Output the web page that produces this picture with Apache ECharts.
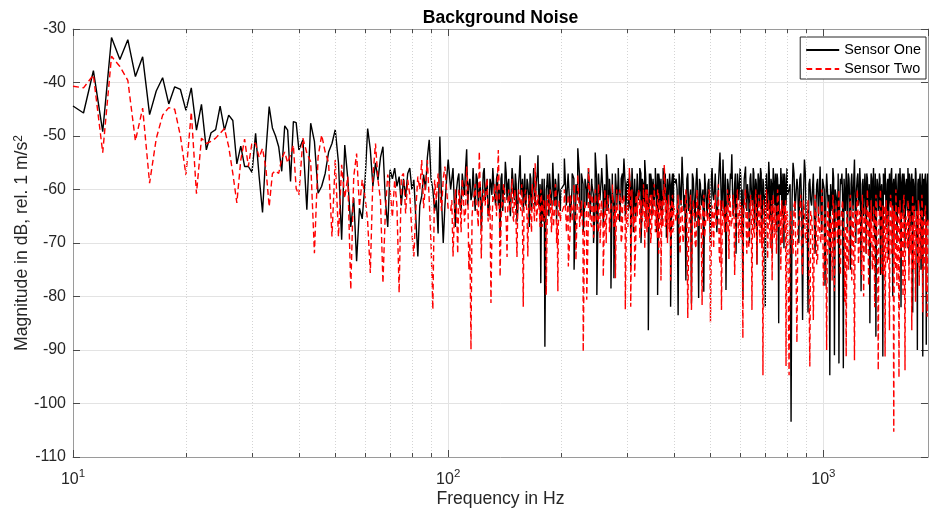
<!DOCTYPE html>
<html>
<head>
<meta charset="utf-8">
<script src="https://cdn.jsdelivr.net/npm/echarts@6/dist/echarts.min.js"></script>
<style>html,body{margin:0;padding:0;background:#fff}#c{width:929px;height:515px}</style>
</head>
<body>
<div id="c"></div>
<script>
// Frequency bins (Hz): each band is a regular grid [start, step, count]
const bands = [
  [10, 2 / 3, 46],
  [41, 1, 60],
  [101.5, 1.5, 66],
  [102.25, 1.5, 66],
  [201.5, 2.5, 80],
  [203.75, 2.5, 80],
  [405, 5, 80],
  [407.5, 5, 80],
  [810, 10, 110],
  [815, 10, 109]
];

// Sensor One magnitudes (dB) per band
const oneBand1 = [-44.4,-45.7,-37.8,-49.2,-31.6,-35.7,-32.0,-38.9,-35.2,-46.0,
  -41.6,-39.1,-44.0,-40.8,-41.3,-45.2,-41.0,-48.9,-44.1,-52.6,
  -49.4,-48.8,-44.4,-48.9,-46.1,-47.1,-55.2,-51.9,-55.7,-55.7,
  -56.8,-49.5,-57.5,-64.3,-53.0,-44.5,-48.5,-50.0,-52.0,-56.6,
  -48.1,-48.9,-58.5,-47.3,-47.5,-52.6];
const oneBand2 = [-50.7,-63.8,-47.6,-51.0,-60.7,-59.4,-57.0,-53.0,-51.4,-48.8,
  -55.0,-69.4,-51.7,-58.0,-67.0,-61.6,-73.4,-63.5,-65.5,-58.8,
  -48.6,-52.5,-59.4,-55.0,-58.2,-54.0,-52.0,-62.0,-67.0,-56.3,
  -58.0,-56.0,-59.4,-57.6,-63.0,-58.0,-61.4,-57.0,-56.0,-60.0,
  -58.2,-65.5,-72.5,-63.0,-61.2,-57.2,-60.0,-54.0,-50.7,-58.0,
  -60.0,-64.0,-62.0,-68.2,-50.1,-62.0,-70.0,-63.0,-58.2,-54.4];
const oneBand3 = [-60,-56,-67,-58,-63,-57,-61,-52.5,-59,-62,
  -56,-64,-58,-60,-67.6,-57,-62,-58,-64,-59,
  -56,-61,-58,-63,-69,-57,-60,-54.8,-62,-58,
  -65,-56,-61,-57,-66,-59,-53.6,-60,-64,-57,
  -62,-59,-67,-58,-61,-56,-63,-58,-53.6,-62,
  -77.5,-58,-64,-89.4,-60,-57,-65,-59,-62,-55,
  -63,-58,-66,-60,-57,-64];
const oneBand3b = [-58,-62,-60,-57,-64,-59,-56,-63,-58,-61,
  -60,-57,-63,-59,-62,-56,-60,-65,-58,-61,
  -59,-63,-57,-60,-58,-64,-61,-57,-59,-63,
  -60,-58,-62,-59,-64,-57,-61,-58,-60,-63,
  -58,-61,-57,-64,-59,-62,-60,-57,-63,-59,
  -61,-66,-58,-72,-59,-61,-57,-63,-60,-58,
  -62,-59,-61,-57,-63,-60];
const oneBand4 = [-60,-54.2,-63,-58,-66,-57,-75,-59,-52.3,-62,
  -57,-68,-58,-63,-56,-65,-59,-70,-53.1,-79.7,
  -57,-62,-56,-67,-60,-53.4,-64,-58,-78.5,-60,
  -76.6,-57,-63,-56,-66,-58,-62,-54.2,-65,-59,
  -64,-57,-74.4,-56,-68,-58,-64,-57,-62,-56,
  -70,-58,-63,-54.5,-66,-59,-86.3,-60,-57,-65,
  -58,-62,-56,-68,-79.7,-57,-63,-58,-66,-56,
  -61,-57,-69,-58,-63,-57,-81.9,-59,-64,-57];
const oneBand4b = [-59,-62,-57,-64,-60,-58,-63,-61,-57,-65,
  -59,-62,-60,-57,-63,-58,-61,-64,-58,-60,
  -62,-57,-61,-59,-64,-58,-60,-62,-57,-63,
  -59,-61,-58,-64,-60,-57,-62,-59,-61,-58,
  -63,-60,-57,-62,-59,-65,-58,-61,-60,-57,
  -63,-59,-62,-58,-60,-64,-57,-61,-59,-63,
  -58,-60,-62,-57,-61,-59,-64,-58,-60,-62,
  -57,-63,-59,-61,-58,-60,-64,-57,-62,-59];
const oneBand5 = [-58,-83.5,-60,-53.9,-64,-77,-57,-62,-81.3,-58,
  -66,-56,-80.3,-59,-63,-79.1,-57,-65,-58,-70,
  -56,-62,-57,-68,-59,-53.1,-64,-54.4,-66,-78.8,
  -58,-63,-57,-53.4,-65,-59,-72,-57,-62,-56,
  -68,-80.6,-58,-55.7,-64,-59,-70,-57,-62,-56,
  -67,-58,-74,-57,-63,-56,-69,-58,-62,-82,
  -57,-64,-54.8,-66,-58,-72,-56,-61,-57,-68,
  -58,-85,-59,-56,-65,-57,-71,-58,-63,-56];
const oneBand5b = [-60,-57,-63,-59,-61,-58,-64,-60,-57,-62,
  -59,-61,-58,-63,-60,-57,-62,-59,-64,-58,
  -61,-60,-57,-63,-59,-58,-62,-60,-57,-64,
  -59,-61,-58,-60,-63,-57,-61,-59,-62,-58,
  -60,-64,-57,-61,-59,-62,-58,-60,-63,-57,
  -61,-59,-62,-58,-60,-57,-63,-59,-61,-58,
  -62,-60,-57,-64,-59,-61,-58,-63,-60,-57,
  -62,-59,-61,-58,-64,-60,-57,-62,-59,-61];
const oneBand6 = [-60,-103.4,-55,-64,-58,-70,-57,-84.4,-54.4,-66,
  -83,-58,-63,-57,-72,-59,-65,-55.7,-68,-58,
  -78,-57,-63,-94.7,-59,-56,-91,-60,-66,-92.5,
  -58,-57,-93.4,-61,-56,-68,-58,-75,-57,-64,
  -54.4,-70,-58,-63,-56,-79,-59,-65,-57,-72,
  -58,-62,-85,-57,-66,-56,-69,-87.5,-58,-64,
  -57,-76,-59,-91.2,-58,-56,-67,-59,-73,-57,
  -63,-56,-80,-58,-66,-57,-70,-59,-64,-56,
  -82,-58,-65,-57,-71,-59,-63,-56,-74,-58,
  -67,-57,-83,-59,-64,-56,-69,-90,-58,-62,
  -57,-75,-59,-91.2,-58,-65,-57,-89,-60,-66];
const oneBand6b = [-59,-62,-57,-64,-60,-58,-63,-61,-57,-65,
  -59,-62,-60,-57,-63,-58,-61,-64,-58,-60,
  -62,-57,-61,-59,-64,-58,-60,-62,-57,-63,
  -59,-61,-58,-64,-60,-57,-62,-59,-61,-58,
  -63,-60,-57,-62,-59,-65,-58,-61,-60,-57,
  -63,-59,-62,-58,-60,-64,-57,-61,-59,-63,
  -58,-60,-62,-57,-61,-59,-64,-58,-60,-62,
  -57,-63,-59,-61,-58,-60,-64,-57,-62,-59,
  -60,-57,-63,-59,-61,-58,-64,-60,-57,-62,
  -59,-61,-58,-63,-60,-57,-62,-59,-64,-58,
  -61,-60,-57,-63,-59,-58,-62,-60,-57];

// Sensor Two magnitudes (dB) per band
const twoBand1 = [-40.7,-41.0,-38.6,-53.1,-35.1,-37.0,-39.6,-50.9,-44.8,-58.8,
  -50.5,-46.1,-44.7,-45.0,-50.0,-57.3,-45.5,-60.8,-50.4,-51.4,
  -51.0,-50.4,-49.5,-48.6,-52.0,-57.0,-62.5,-54.5,-50.6,-55.7,
  -51.2,-51.4,-54.0,-52.3,-56.0,-63.2,-57.0,-56.5,-57.0,-54.2,
  -53.0,-55.0,-53.5,-51.7,-59.8,-61.0];
const twoBand2 = [-50.4,-53.2,-54.8,-71.9,-53.9,-49.8,-53.0,-55.0,-68.8,-54.5,
  -68.8,-55.4,-61.6,-57.6,-78.7,-57.6,-53.3,-63.2,-58.2,-61.2,
  -66.0,-75.6,-57.6,-51.4,-58.2,-62.0,-77.5,-64.0,-57.2,-60.0,
  -65.2,-58.2,-63.0,-79.3,-57.6,-57.0,-64.5,-58.2,-61.0,-68.0,
  -72.5,-63.5,-57.6,-60.0,-54.5,-63.5,-59.0,-54.5,-62.0,-70.0,
  -82.4,-58.2,-62.0,-57.0,-60.0,-64.0,-58.0,-55.7,-60.0,-63.7];
const twoBand3 = [-64,-72.5,-60,-72,-62,-58,-66,-55.7,-75,-89.9,
  -62,-59,-64,-52.9,-72.9,-60,-63,-58,-66,-81.2,
  -61,-59,-65,-52.6,-76.3,-62,-59,-64,-72.6,-60,
  -63,-58,-66,-61,-72.6,-60,-63,-59,-81.9,-62,
  -60,-72.5,-61,-65,-59,-63,-55.1,-66,-61,-64,
  -60,-67,-62,-65,-79.7,-61,-64,-60,-68,-62,
  -65,-59,-70,-79,-62,-66];
const twoBand3b = [-62,-66,-63,-60,-68,-61,-64,-59,-70,-65,
  -61,-63,-67,-60,-64,-62,-59,-66,-63,-68,
  -62,-60,-65,-61,-67,-63,-60,-66,-62,-64,
  -61,-65,-60,-67,-63,-61,-64,-66,-62,-60,
  -65,-63,-61,-68,-62,-66,-60,-64,-63,-67,
  -61,-64,-66,-62,-70,-63,-61,-65,-62,-67,
  -63,-60,-66,-64,-62,-65];
const twoBand4 = [-64,-60,-68,-74.4,-61,-66,-59,-73.2,-57.3,-67,
  -62,-90.3,-63,-80.6,-56,-66,-61,-69,-60,-65,
  -59,-70,-62,-76.3,-60,-66,-61,-68,-63,-59,
  -67,-76.6,-62,-65,-60,-70,-63,-61,-82.4,-64,
  -60,-56,-81.9,-63,-67,-76.3,-61,-65,-60,-69,
  -62,-66,-59,-71,-63,-60,-67,-62,-70,-61,
  -65,-59,-68,-63,-60,-72,-62,-77,-64,-60,
  -55.4,-67,-62,-70,-61,-65,-77,-62,-68,-63];
const twoBand4b = [-63,-66,-61,-68,-64,-62,-67,-60,-65,-63,
  -69,-62,-64,-66,-61,-67,-63,-65,-60,-68,
  -64,-62,-66,-63,-70,-61,-65,-64,-62,-67,
  -63,-60,-66,-64,-62,-68,-61,-65,-63,-67,
  -62,-64,-60,-66,-63,-69,-62,-65,-61,-67,
  -64,-62,-66,-60,-68,-63,-65,-61,-67,-64,
  -62,-66,-63,-69,-61,-65,-64,-62,-67,-63,
  -60,-66,-64,-62,-68,-63,-65,-61,-67,-64];
const twoBand5 = [-66,-61,-72,-63,-68,-60,-84,-64,-82.5,-62,
  -70,-60,-67,-63,-81.6,-61,-69,-64,-60,-84.8,
  -63,-71,-61,-67,-59,-74,-82.5,-62,-68,-64,
  -60,-73,-63,-67,-61,-76,-64,-60,-70,-62,
  -66,-87.8,-63,-60,-72,-64,-68,-61,-82.5,-63,
  -69,-60,-74,-64,-67,-61,-71,-94.7,-63,-66,
  -60,-73,-62,-68,-64,-77,-61,-69,-63,-72,
  -60,-67,-64,-75,-62,-70,-63,-68,-93,-64];
const twoBand5b = [-64,-67,-62,-70,-65,-63,-68,-61,-66,-64,
  -71,-63,-65,-67,-62,-69,-64,-66,-61,-70,
  -65,-63,-67,-64,-72,-62,-66,-65,-63,-68,
  -64,-61,-67,-65,-63,-70,-62,-66,-64,-69,
  -63,-65,-61,-67,-64,-71,-63,-66,-62,-68,
  -65,-63,-67,-61,-70,-64,-66,-62,-69,-65,
  -63,-67,-64,-71,-62,-66,-65,-63,-68,-64,
  -61,-67,-65,-63,-70,-64,-66,-62,-68,-65];
const twoBand6 = [-94.7,-64,-72,-62,-88.6,-66,-61,-76,-64,-70,
  -62,-93.1,-65,-84.4,-61,-74,-63,-69,-60,-78,
  -64,-90,-62,-72,-66,-61,-79,-63,-70,-60,
  -76,-65,-62,-81,-91.2,-64,-71,-61,-77,-63,
  -91.9,-66,-60,-74,-64,-69,-61,-80,-63,-72,
  -60,-78,-65,-62,-75,-63,-82,-61,-70,-93.8,
  -64,-60,-76,-63,-71,-91.2,-62,-74,-65,-86.3,
  -61,-72,-63,-105.3,-64,-60,-78,-66,-95.1,-62,
  -73,-64,-80,-61,-93.8,-65,-70,-62,-77,-64,
  -72,-86.3,-61,-75,-63,-81,-65,-70,-62,-78,
  -64,-73,-61,-83,-66,-71,-63,-79,-83.8,-65];
const twoBand6b = [-66,-70,-63,-74,-67,-64,-72,-62,-69,-65,
  -76,-64,-68,-71,-63,-73,-66,-70,-62,-75,
  -67,-64,-71,-65,-77,-63,-69,-66,-64,-72,
  -65,-62,-70,-67,-64,-75,-63,-68,-66,-73,
  -64,-67,-62,-71,-65,-76,-64,-69,-63,-72,
  -67,-64,-70,-62,-74,-66,-68,-63,-73,-67,
  -64,-70,-65,-76,-63,-69,-66,-64,-72,-65,
  -62,-71,-67,-64,-75,-65,-69,-63,-72,-66,
  -64,-70,-62,-73,-67,-65,-71,-63,-77,-66,
  -68,-64,-72,-63,-70,-66,-64,-74,-62,-69,
  -65,-71,-63,-67,-75,-64,-68,-66,-72];

const seriesNames = ['Sensor One', 'Sensor Two'];
const xMinorTicks = [20,30,40,50,60,70,80,90,200,300,400,500,600,700,800,900];
const xRange = [10, 1900];
const yRange = [-110, -30];
const yStep = 10;

function buildPoints(valueBands) {
  const pts = [];
  bands.forEach((b, bi) => {
    const vals = valueBands[bi];
    for (let i = 0; i < b[2] && i < vals.length; i++) {
      pts.push([+(b[0] + i * b[1]).toFixed(4), vals[i]]);
    }
  });
  pts.sort((a, b) => a[0] - b[0]);
  return pts;
}
const sensorOne = buildPoints([oneBand1, oneBand2, oneBand3, oneBand3b, oneBand4, oneBand4b, oneBand5, oneBand5b, oneBand6, oneBand6b]);
const sensorTwo = buildPoints([twoBand1, twoBand2, twoBand3, twoBand3b, twoBand4, twoBand4b, twoBand5, twoBand5b, twoBand6, twoBand6b]);

const FONT = "'Liberation Sans', Arial, Helvetica, sans-serif";
const TITLE = 'Background Noise';
const mctx = document.createElement('canvas').getContext('2d');
mctx.font = "bold 17.6px 'Liberation Sans'";
const titleW = mctx.measureText(TITLE).width;

const GRID = { left: 73, right: 1, top: 29, bottom: 58, outerBoundsMode: 'none', containLabel: false };
const plotCenterX = GRID.left + (929 - GRID.left - GRID.right) / 2;

const chart = echarts.init(document.getElementById('c'), null, { renderer: 'canvas' });
const axisGray = '#9a9a9a';
const tickDark = '#4a4a4a';
const textDark = '#262626';

chart.setOption({
  animation: false,
  backgroundColor: '#ffffff',
  title: {
    text: TITLE,
    left: plotCenterX - titleW / 2 - 5,
    top: 4,
    textStyle: { fontFamily: FONT, fontSize: 17.6, fontWeight: 'bold', color: '#000' }
  },
  legend: {
    data: seriesNames,
    orient: 'vertical',
    right: 3,
    top: 37,
    itemWidth: 33,
    itemHeight: 14,
    itemGap: 5,
    padding: [6, 5, 3, 5],
    backgroundColor: '#fff',
    borderColor: '#262626',
    borderWidth: 1,
    borderRadius: 0,
    selectedMode: false,
    itemStyle: { opacity: 0 },
    textStyle: { fontFamily: FONT, fontSize: 14.4, color: '#000' }
  },
  grid: GRID,
  xAxis: [{
    type: 'log', logBase: 10, min: xRange[0], max: xRange[1], position: 'bottom',
    axisLine: { show: true, onZero: false, lineStyle: { color: axisGray, width: 1 } },
    axisTick: { show: true, inside: true, length: 7, lineStyle: { color: tickDark } },
    axisLabel: {
      margin: 11, showMaxLabel: false,
      formatter: function (v) {
        const e = Math.log10(v), r = Math.round(e);
        return Math.abs(e - r) < 1e-6 ? '{b|10}{s|' + r + '}' : '';
      },
      rich: {
        b: { fontFamily: FONT, fontSize: 16, color: textDark, padding: [4, 0, 0, 0] },
        s: { fontFamily: FONT, fontSize: 11.5, color: textDark, verticalAlign: 'top' }
      }
    },
    splitLine: { show: true, lineStyle: { color: '#e3e3e3', width: 1 } },
    name: 'Frequency in Hz', nameLocation: 'middle', nameGap: 33, nameMoveOverlap: false,
    nameTextStyle: { fontFamily: FONT, fontSize: 17.6, color: textDark }
  }, {
    type: 'log', logBase: 10, min: xRange[0], max: xRange[1], position: 'top',
    axisLine: { show: true, onZero: false, lineStyle: { color: axisGray, width: 1 } },
    axisTick: { show: true, inside: true, length: 7, lineStyle: { color: tickDark } },
    axisLabel: { show: false }, splitLine: { show: false }
  }],
  yAxis: [{
    type: 'value', min: yRange[0], max: yRange[1], interval: yStep, position: 'left',
    axisLine: { show: true, onZero: false, lineStyle: { color: axisGray, width: 1 } },
    axisTick: { show: true, inside: true, length: 7, lineStyle: { color: tickDark } },
    axisLabel: { fontFamily: FONT, fontSize: 16, color: textDark, margin: 7 },
    splitLine: { show: true, lineStyle: { color: '#e3e3e3', width: 1 } },
    name: '{a|Magnitude in dB, rel. 1 m/s}{s|2}', nameLocation: 'middle', nameRotate: 90, nameGap: 42,
    nameMoveOverlap: false,
    nameTextStyle: {
      fontFamily: FONT, fontSize: 17.6, color: textDark,
      rich: {
        a: { fontFamily: FONT, fontSize: 17.6, color: textDark },
        s: { fontFamily: FONT, fontSize: 12, color: textDark, verticalAlign: 'top' }
      }
    }
  }, {
    type: 'value', min: yRange[0], max: yRange[1], interval: yStep, position: 'right',
    axisLine: { show: true, onZero: false, lineStyle: { color: axisGray, width: 1 } },
    axisTick: { show: true, inside: true, length: 7, lineStyle: { color: tickDark } },
    axisLabel: { show: false }, splitLine: { show: false }
  }],
  series: [{
    type: 'line', name: '_minorGrid', data: [], silent: true, z: 1,
    markLine: {
      silent: true, symbol: ['none', 'none'], label: { show: false }, animation: false,
      lineStyle: { color: '#d4d4d4', type: [1, 2], width: 1 },
      emphasis: { disabled: true },
      data: xMinorTicks.map(v => ({ xAxis: v }))
    }
  }, {
    type: 'line', name: '_minorTicks', data: [], silent: true, z: 5,
    markLine: {
      silent: true, symbol: ['none', 'none'], label: { show: false }, animation: false,
      lineStyle: { color: tickDark, type: 'solid', width: 1 },
      emphasis: { disabled: true },
      data: xMinorTicks.flatMap(v => [
        [{ coord: [v, yRange[0]] }, { coord: [v, yRange[0] + 0.75] }],
        [{ coord: [v, yRange[1]] }, { coord: [v, yRange[1] - 0.75] }]
      ])
    }
  }, {
    type: 'line', name: seriesNames[0], data: sensorOne,
    symbol: 'none', showSymbol: false, silent: true, z: 3,
    lineStyle: { color: '#000000', width: 1.4 }, itemStyle: { color: '#000000' }
  }, {
    type: 'line', name: seriesNames[1], data: sensorTwo,
    symbol: 'none', showSymbol: false, silent: true, z: 4,
    lineStyle: { color: '#ff0000', width: 1.4, type: [6, 3.5] }, itemStyle: { color: '#ff0000' }
  }]
});
</script>
</body>
</html>
